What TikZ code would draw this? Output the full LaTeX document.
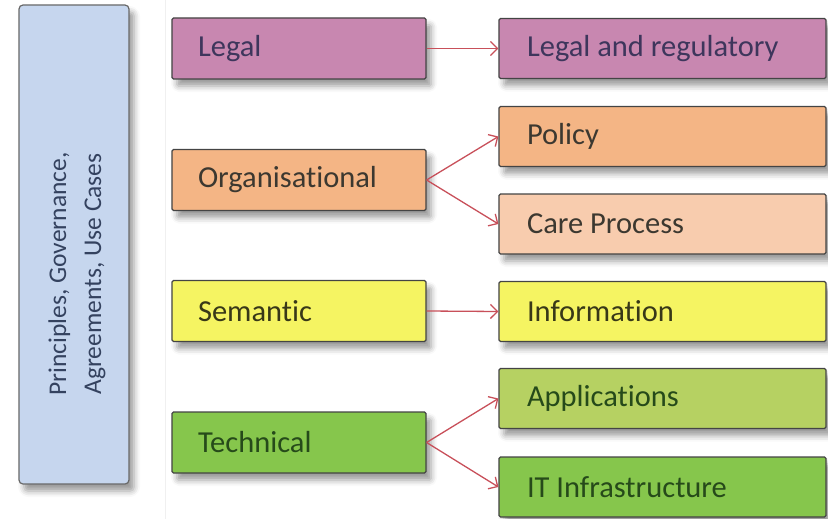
\documentclass[tikz,border=0pt]{standalone}
\usepackage{fontspec}
\setmainfont{Carlito}[Ligatures=NoCommon]
\usepackage{tikz}
\usetikzlibrary{arrows.meta,shadows.blur}
\definecolor{framefill}{HTML}{C6D6EE}
\definecolor{frametext}{HTML}{34425F}
\definecolor{legalfill}{HTML}{C887B0}
\definecolor{legaltext}{HTML}{3E365C}
\definecolor{orgfill}{HTML}{F4B585}
\definecolor{carefill}{HTML}{F8CCAE}
\definecolor{orgtext}{HTML}{3C3830}
\definecolor{semfill}{HTML}{F5F462}
\definecolor{semtext}{HTML}{383818}
\definecolor{techfill}{HTML}{86C64C}
\definecolor{appfill}{HTML}{B6D162}
\definecolor{techtext}{HTML}{264A1A}
\definecolor{boxline}{HTML}{444444}
\definecolor{linkred}{HTML}{C8505A}
\tikzset{
  box/.style={draw=boxline, line width=1.2pt, rounded corners=1.5pt, align=flush left,
    font=\fontsize{30.5}{34}\selectfont,
    blur shadow={shadow xshift=5pt, shadow yshift=-7pt, shadow blur radius=6pt}},
  lbox/.style={box, inner xsep=26pt, text width=202pt, minimum height=61pt},
  rbox/.style={box, inner xsep=28pt, text width=271pt, minimum height=60pt},
  link/.style={draw=linkred, line width=1.3pt, -{Straight Barb[length=7pt,width=14pt]}},
}
\begin{document}
\begin{tikzpicture}[x=1pt,y=-1pt]
  \useasboundingbox (0,0) rectangle (828,519);
  \draw[black!6, line width=1pt] (165,0) -- (165,519);
  % left frame
  \node[draw=boxline!80, fill=framefill, line width=1.2pt, rounded corners=4pt,
    minimum width=110pt, minimum height=479pt,
    blur shadow={shadow xshift=5pt, shadow yshift=-7pt, shadow blur radius=6pt}] (frame) at (74,244.5) {};
  \node[rotate=90, align=center, text=frametext, font=\fontsize{25.5}{35}\selectfont] (framelabel) at (77,274)
    {Principles, Governance,\\Agreements, Use Cases};
  % levels
  \node[lbox, fill=legalfill, text=legaltext] (legal) at (299,48.5) {Legal};
  \node[lbox, fill=orgfill, text=orgtext] (org) at (299,180) {Organisational};
  \node[lbox, fill=semfill, text=semtext] (sem) at (299,311) {Semantic};
  \node[lbox, fill=techfill, text=techtext] (tech) at (299,442.5) {Technical};
  % aspects
  \node[rbox, fill=legalfill, text=legaltext] (legreg) at (662.5,48.5) {Legal and regulatory};
  \node[rbox, fill=orgfill, text=orgtext] (policy) at (662.5,136.5) {Policy};
  \node[rbox, fill=carefill, text=orgtext] (care) at (662.5,224) {Care Process};
  \node[rbox, fill=semfill, text=semtext] (info) at (662.5,311.5) {Information};
  \node[rbox, fill=appfill, text=techtext] (apps) at (662.5,398.5) {Applications};
  \node[rbox, fill=techfill, text=techtext] (infra) at (662.5,487) {IT Infrastructure};
  % links
  \draw[link] (legal.east) -- (legreg.west);
  \draw[link] (org.east) -- (policy.west);
  \draw[link] (org.east) -- (care.west);
  \draw[link] (sem.east) -- (info.west);
  \draw[link] (tech.east) -- (apps.west);
  \draw[link] (tech.east) -- (infra.west);
\end{tikzpicture}
\end{document}
